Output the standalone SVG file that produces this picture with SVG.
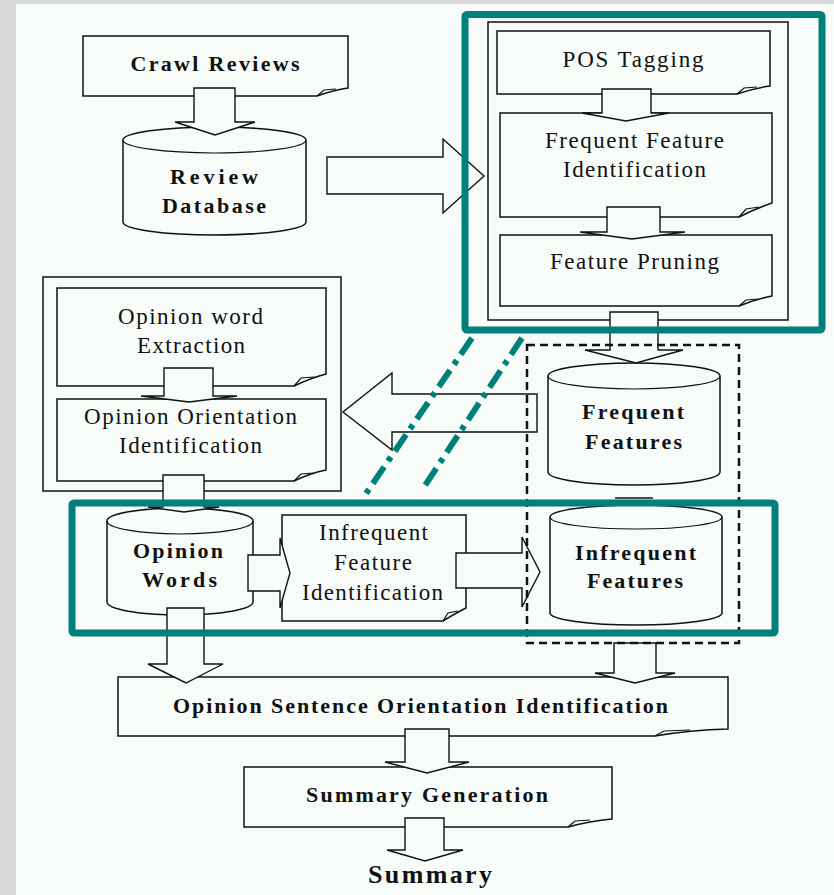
<svg xmlns="http://www.w3.org/2000/svg" width="834" height="895" viewBox="0 0 834 895">
<style>
.bx{fill:none;stroke:#111;stroke-width:1.5}
.fl{fill:none;stroke:#111;stroke-width:1.2}
.cy{fill:#f7fcf9;stroke:#111;stroke-width:1.5}
.ar{fill:#f7fcf9;stroke:#111;stroke-width:1.4;stroke-linejoin:miter}
.t{font-family:"Liberation Serif","Times New Roman",serif;font-size:23px;fill:#111;text-anchor:middle}
.b{font-family:"Liberation Serif","Times New Roman",serif;font-size:22px;font-weight:bold;fill:#111;text-anchor:middle}
.teal{fill:none;stroke:#00807b;stroke-width:7;stroke-linejoin:round}
.dd{fill:none;stroke:#00807b;stroke-width:6;stroke-dasharray:20 7 5 7}
.dash{fill:none;stroke:#111;stroke-width:2.5;stroke-dasharray:8 5}
</style>
<rect x="0" y="0" width="834" height="895" fill="#f7fcf9"/>
<rect x="0" y="0" width="16" height="895" fill="#d9d9d9"/>
<rect x="0" y="0" width="834" height="4" fill="#d9d9d9"/>

<g id="crawl-reviews">
<path class="bx" d="M83,36 H348 V88 Q334,90 317,96 H83 Z"/>
<path class="fl" d="M317,96 L324,90 L336,89"/>
<text class="b" x="215" y="71" textLength="169" lengthAdjust="spacing">Crawl Reviews</text>
</g>

<g id="review-database">
<path class="cy" d="M123,140 A91.5,13 0 0 1 306,140 V222 A91.5,13 0 0 1 123,222 Z"/>
<path class="fl" d="M123,140 A91.5,13 0 0 0 306,140"/>
<text class="b" x="214" y="184" textLength="88" lengthAdjust="spacing">Review</text>
<text class="b" x="214" y="213" textLength="104" lengthAdjust="spacing">Database</text>
</g>

<g id="feature-container">
<rect class="bx" x="488" y="22" width="300" height="298"/>
</g>

<g id="pos-tagging">
<path class="bx" d="M497,31 H770 V86 Q755,88 737,94 H497 Z"/>
<path class="fl" d="M737,94 L744,88 L757,87"/>
<text class="t" x="633" y="67" textLength="141" lengthAdjust="spacing">POS Tagging</text>
</g>

<g id="frequent-feature-identification">
<path class="bx" d="M500,113 H772 V203 Q757,208 739,217 H500 Z"/>
<path class="fl" d="M739,217 L746,209 L759,207"/>
<text class="t" x="634.5" y="148" textLength="179" lengthAdjust="spacing">Frequent Feature</text>
<text class="t" x="634.5" y="177" textLength="143" lengthAdjust="spacing">Identification</text>
</g>

<g id="feature-pruning">
<path class="bx" d="M500,235 H772 V296 Q757,299 739,306 H500 Z"/>
<path class="fl" d="M739,306 L746,300 L759,299"/>
<text class="t" x="634.5" y="269" textLength="169" lengthAdjust="spacing">Feature Pruning</text>
</g>

<g id="opinion-container">
<rect class="bx" x="43" y="277" width="298" height="214"/>
</g>

<g id="opinion-word-extraction">
<path class="bx" d="M57,288 H326 V374 Q311,378 294,386 H57 Z"/>
<path class="fl" d="M294,386 L301,378 L314,377"/>
<text class="t" x="190.5" y="324" textLength="145" lengthAdjust="spacing">Opinion word</text>
<text class="t" x="191" y="353" textLength="108" lengthAdjust="spacing">Extraction</text>
</g>

<g id="opinion-orientation-identification">
<path class="bx" d="M57,399 H326 V470 Q311,473 294,481 H57 Z"/>
<path class="fl" d="M294,481 L301,474 L314,473"/>
<text class="t" x="190.5" y="424" textLength="213" lengthAdjust="spacing">Opinion Orientation</text>
<text class="t" x="190.5" y="453" textLength="143" lengthAdjust="spacing">Identification</text>
</g>

<g id="frequent-features">
<path class="cy" d="M548,376 A86,13 0 0 1 720,376 V472 A86,13 0 0 1 548,472 Z"/>
<path class="fl" d="M548,376 A86,13 0 0 0 720,376"/>
<text class="b" x="633" y="419" textLength="102" lengthAdjust="spacing">Frequent</text>
<text class="b" x="633.5" y="449" textLength="97" lengthAdjust="spacing">Features</text>
</g>

<g id="infrequent-features">
<path class="cy" d="M550,517 A86,12 0 0 1 722,517 V613 A86,12 0 0 1 550,613 Z"/>
<path class="fl" d="M550,517 A86,12 0 0 0 722,517"/>
<text class="b" x="635.5" y="560" textLength="121" lengthAdjust="spacing">Infrequent</text>
<text class="b" x="635" y="588" textLength="96" lengthAdjust="spacing">Features</text>
</g>

<g id="opinion-words">
<path class="cy" d="M107,521 A73,13 0 0 1 253,521 V602 A73,13 0 0 1 107,602 Z"/>
<path class="fl" d="M107,521 A73,13 0 0 0 253,521"/>
<text class="b" x="178" y="558" textLength="90" lengthAdjust="spacing">Opinion</text>
<text class="b" x="179.5" y="587" textLength="75" lengthAdjust="spacing">Words</text>
</g>

<g id="infrequent-feature-identification">
<path class="bx" d="M282,515 H466 V608 Q456,613 443,621 H282 Z"/>
<path class="fl" d="M443,621 L448,613 L458,611"/>
<text class="t" x="373.5" y="540" textLength="109" lengthAdjust="spacing">Infrequent</text>
<text class="t" x="373" y="570" textLength="78" lengthAdjust="spacing">Feature</text>
<text class="t" x="372.5" y="600" textLength="141" lengthAdjust="spacing">Identification</text>
</g>

<g id="opinion-sentence-orientation-identification">
<path class="bx" d="M118,677 H728 V729 Q690,730 655,736 H118 Z"/>
<path class="fl" d="M655,736 L664,731 L690,730"/>
<text class="b" x="420.5" y="713" textLength="495" lengthAdjust="spacing">Opinion Sentence Orientation Identification</text>
</g>

<g id="summary-generation">
<path class="bx" d="M244,767 H612 V819 Q590,821 568,827 H244 Z"/>
<path class="fl" d="M568,827 L575,821 L590,820"/>
<text class="b" x="427" y="802" textLength="242" lengthAdjust="spacing">Summary Generation</text>
</g>

<g id="summary">
<text class="b" x="430" y="883" style="font-size:26px" textLength="124" lengthAdjust="spacing">Summary</text>
</g>

<g id="connectors">
<polygon class="ar" points="194,88 194,122 175,122 215,135 255,122 235,122 235,88"/>
<polygon class="ar" points="327,157 443,157 443,139 484,176 443,213 443,194 327,194"/>
<polygon class="ar" points="602,89 602,113 582,113 626,121 669,113 651,113 651,89"/>
<polygon class="ar" points="607,207 607,232 580,232 632,239 685,232 660,232 660,207"/>
<polygon class="ar" points="610,312 610,350 585,350 636,363 683,350 658,350 658,312"/>
<polygon class="ar" points="537,394 392,394 392,373 343,412 392,450 392,432 537,432"/>
<polygon class="ar" points="164,368 164,396 141,396 189,402 237,396 213,396 213,368"/>
<polygon class="ar" points="163,475 163,507 148,507 184,512 219,507 204,507 204,475"/>
<line class="bx" x1="615" y1="498" x2="653" y2="498"/>
<polygon class="ar" points="248,555 280,555 280,538 290,573 280,608 280,591 248,591"/>
<polygon class="ar" points="456,553 522,553 522,537 540,572 522,607 522,588 456,588"/>
<polygon class="ar" points="167,608 167,664 148,664 186,683 223,664 204,664 204,608"/>
<polygon class="ar" points="614,643 614,673 595,673 635,683 675,673 656,673 656,643"/>
<polygon class="ar" points="405,729 405,762 385,762 427,773 469,762 449,762 449,729"/>
<polygon class="ar" points="405,818 405,850 387,850 425,861 463,850 444,850 444,818"/>
</g>

<g id="frequent-group-dashed">
<rect class="dash" x="527" y="345" width="212" height="298"/>
</g>

<g id="highlights">
<rect class="teal" x="465" y="14.5" width="357" height="315.5" rx="2"/>
<rect class="teal" x="72" y="503" width="703" height="130" rx="2"/>
<line class="dd" x1="472" y1="338" x2="365" y2="495"/>
<line class="dd" x1="522" y1="338" x2="422" y2="490"/>
</g>
</svg>
